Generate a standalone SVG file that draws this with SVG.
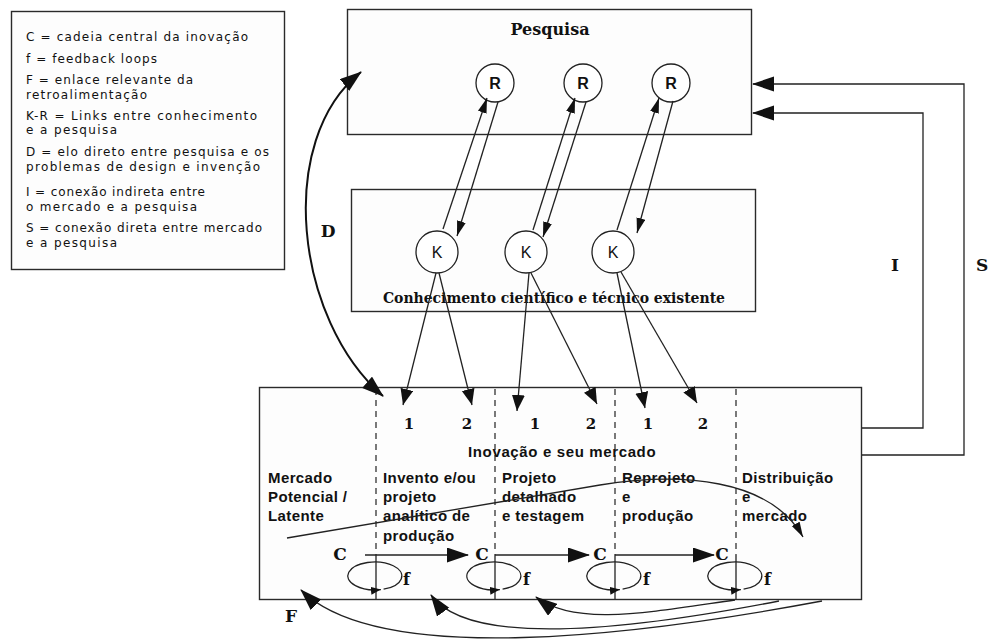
<svg xmlns="http://www.w3.org/2000/svg" width="990" height="642" viewBox="0 0 990 642">
  <style>
    .box { fill: #fdfdfd; stroke: #2a2a2a; stroke-width: 1.4; }
    .node { fill: #fff; stroke: #222; stroke-width: 1.3; }
    .ln { fill: none; stroke: #222; stroke-width: 1.3; }
    .thick { fill: none; stroke: #111; stroke-width: 2; }
    .dash { fill: none; stroke: #222; stroke-width: 1.2; stroke-dasharray: 6 5; }
    .legend { font-family: "DejaVu Sans", "Liberation Sans", sans-serif; font-size: 12px; fill: #111; }
    .serif { font-family: "DejaVu Serif", "Liberation Serif", serif; font-weight: bold; fill: #111; }
    .stage { font-family: "Liberation Sans", Arial, sans-serif; font-weight: bold; font-size: 15px; letter-spacing: 0.4px; fill: #111; }
    .circ { font-family: "Liberation Sans", Arial, sans-serif; font-size: 16px; fill: #111; text-anchor: middle; }
  </style>
  <defs>
    <marker id="big" markerUnits="userSpaceOnUse" markerWidth="24" markerHeight="16" refX="21" refY="7.5" orient="auto-start-reverse">
      <path d="M0,0 L22,7.5 L0,15 z" fill="#111"/>
    </marker>
    <marker id="mid" markerUnits="userSpaceOnUse" markerWidth="18" markerHeight="14" refX="16" refY="6.5" orient="auto">
      <path d="M0,0 L16,6.5 L0,13 z" fill="#111"/>
    </marker>
    <marker id="sm" markerUnits="userSpaceOnUse" markerWidth="16" markerHeight="10" refX="15" refY="4.5" orient="auto">
      <path d="M0,0 L15,4.5 L0,9 z" fill="#111"/>
    </marker>
    <marker id="tiny" markerUnits="userSpaceOnUse" markerWidth="12" markerHeight="10" refX="10" refY="4" orient="auto">
      <path d="M0,0 L10,4 L0,8 z" fill="#111"/>
    </marker>
  </defs>

  <rect width="990" height="642" fill="#fff"/>

  <!-- Legend -->
  <g id="legend">
    <rect class="box" x="11.5" y="11.5" width="273" height="258"/>
    <text class="legend" x="26" y="41" textLength="222">C = cadeia central da inovação</text>
    <text class="legend" x="26" y="63" textLength="131">f = feedback loops</text>
    <text class="legend" x="26" y="84" textLength="167">F = enlace relevante da</text>
    <text class="legend" x="26" y="99" textLength="121">retroalimentação</text>
    <text class="legend" x="26" y="120" textLength="231">K-R = Links entre conhecimento</text>
    <text class="legend" x="26" y="134" textLength="91">e a pesquisa</text>
    <text class="legend" x="26" y="156" textLength="243">D = elo direto entre pesquisa e os</text>
    <text class="legend" x="26" y="171" textLength="234">problemas de design e invenção</text>
    <text class="legend" x="26" y="196" textLength="179">I = conexão indireta entre</text>
    <text class="legend" x="26" y="211" textLength="171">o mercado e a pesquisa</text>
    <text class="legend" x="26" y="232" textLength="236">S = conexão direta entre mercado</text>
    <text class="legend" x="26" y="247" textLength="91">e a pesquisa</text>
  </g>

  <!-- Research block -->
  <g id="pesquisa">
    <rect class="box" x="347.5" y="9.5" width="404" height="125"/>
    <text class="serif" x="550" y="35" font-size="16" text-anchor="middle">Pesquisa</text>
  </g>
  <g id="r1"><circle class="node" cx="495" cy="83" r="19"/><text class="circ" x="495" y="89" font-weight="bold">R</text></g>
  <g id="r2"><circle class="node" cx="583" cy="83" r="19"/><text class="circ" x="583" y="89" font-weight="bold">R</text></g>
  <g id="r3"><circle class="node" cx="671" cy="83" r="19"/><text class="circ" x="671" y="89" font-weight="bold">R</text></g>

  <!-- Existing knowledge block -->
  <g id="conhecimento">
    <rect class="box" x="351.5" y="189.5" width="404" height="122"/>
    <text class="serif" x="383" y="303" font-size="14" textLength="342">Conhecimento científico e técnico existente</text>
  </g>
  <g id="k1"><circle class="node" cx="437" cy="252" r="21"/><text class="circ" x="437" y="258">K</text></g>
  <g id="k2"><circle class="node" cx="526" cy="252" r="21"/><text class="circ" x="526" y="258">K</text></g>
  <g id="k3"><circle class="node" cx="613" cy="252" r="21"/><text class="circ" x="613" y="258">K</text></g>

  <!-- Innovation and market block -->
  <g id="mercado">
    <rect class="box" x="259.5" y="387.5" width="602" height="212"/>
    <line class="dash" x1="376" y1="389" x2="376" y2="555"/>
    <line class="dash" x1="495" y1="389" x2="495" y2="555"/>
    <line class="dash" x1="615" y1="389" x2="615" y2="555"/>
    <line class="dash" x1="736" y1="389" x2="736" y2="555"/>
    <line class="ln" x1="376" y1="555" x2="376" y2="599"/>
    <line class="ln" x1="495" y1="555" x2="495" y2="599"/>
    <line class="ln" x1="615" y1="555" x2="615" y2="599"/>
    <line class="ln" x1="736" y1="555" x2="736" y2="599"/>

    <text class="serif" font-size="15" text-anchor="middle" x="409" y="429">1</text>
    <text class="serif" font-size="15" text-anchor="middle" x="467" y="429">2</text>
    <text class="serif" font-size="15" text-anchor="middle" x="535" y="429">1</text>
    <text class="serif" font-size="15" text-anchor="middle" x="591" y="429">2</text>
    <text class="serif" font-size="15" text-anchor="middle" x="648" y="429">1</text>
    <text class="serif" font-size="15" text-anchor="middle" x="703" y="429">2</text>

    <text class="stage" x="468" y="457" textLength="188">Inovação e seu mercado</text>

    <text class="stage"><tspan x="268" y="483">Mercado</tspan><tspan x="268" y="502">Potencial /</tspan><tspan x="268" y="521">Latente</tspan></text>
    <text class="stage"><tspan x="383" y="483">Invento e/ou</tspan><tspan x="383" y="502">projeto</tspan><tspan x="383" y="521">analítico de</tspan><tspan x="383" y="541">produção</tspan></text>
    <text class="stage"><tspan x="502" y="483">Projeto</tspan><tspan x="502" y="502">detalhado</tspan><tspan x="502" y="521">e testagem</tspan></text>
    <text class="stage"><tspan x="622" y="483">Reprojeto</tspan><tspan x="622" y="502">e</tspan><tspan x="622" y="521">produção</tspan></text>
    <text class="stage"><tspan x="742" y="483">Distribuição</tspan><tspan x="742" y="502">e</tspan><tspan x="742" y="521">mercado</tspan></text>

    <text class="serif" font-size="17" text-anchor="middle" x="340" y="560">C</text>
    <text class="serif" font-size="17" text-anchor="middle" x="482" y="560">C</text>
    <text class="serif" font-size="17" text-anchor="middle" x="600" y="560">C</text>
    <text class="serif" font-size="17" text-anchor="middle" x="722" y="560">C</text>

    <text class="serif" font-size="16" x="403" y="585">f</text>
    <text class="serif" font-size="16" x="523" y="585">f</text>
    <text class="serif" font-size="16" x="643" y="585">f</text>
    <text class="serif" font-size="16" x="764" y="585">f</text>
  </g>

  <!-- Free labels -->
  <text class="serif" font-size="17" text-anchor="middle" x="328" y="237">D</text>
  <text class="serif" font-size="17" text-anchor="middle" x="895" y="271">I</text>
  <text class="serif" font-size="17" x="976" y="271">S</text>
  <text class="serif" font-size="17" x="285" y="622">F</text>

  <!-- Connectors -->
  <g id="connectors">
    <!-- K-R links -->
    <line class="ln" x1="443" y1="229" x2="487" y2="98" marker-end="url(#sm)"/>
    <line class="ln" x1="498" y1="102" x2="457" y2="236" marker-end="url(#sm)"/>
    <line class="ln" x1="533" y1="230" x2="575" y2="98" marker-end="url(#sm)"/>
    <line class="ln" x1="586" y1="102" x2="543" y2="237" marker-end="url(#sm)"/>
    <line class="ln" x1="617" y1="230" x2="659" y2="98" marker-end="url(#sm)"/>
    <line class="ln" x1="673" y1="101" x2="637" y2="233" marker-end="url(#sm)"/>

    <!-- Knowledge to stages -->
    <line class="ln" x1="436" y1="273" x2="403" y2="405" marker-end="url(#mid)"/>
    <line class="ln" x1="439" y1="273" x2="472" y2="405" marker-end="url(#mid)"/>
    <line class="ln" x1="529" y1="273" x2="517" y2="411" marker-end="url(#mid)"/>
    <line class="ln" x1="531" y1="273" x2="597" y2="404" marker-end="url(#mid)"/>
    <line class="ln" x1="617" y1="273" x2="645" y2="408" marker-end="url(#mid)"/>
    <line class="ln" x1="621" y1="272" x2="697" y2="403" marker-end="url(#mid)"/>

    <!-- D: research <-> invention -->
    <path class="thick" d="M383,396 C295,320 275,140 361,72" marker-start="url(#big)" marker-end="url(#big)"/>

    <!-- I and S: market back to research -->
    <polyline class="ln" stroke-width="1.5" points="862,428 923,428 923,113 753,113" marker-end="url(#big)"/>
    <polyline class="ln" stroke-width="1.5" points="862,455 964,455 964,84 753,84" marker-end="url(#big)"/>

    <!-- Central chain C -->
    <line class="ln" x1="365" y1="555" x2="468" y2="555" marker-end="url(#big)"/>
    <line class="ln" x1="495" y1="555" x2="589" y2="555" marker-end="url(#big)"/>
    <line class="ln" x1="615" y1="555" x2="714" y2="555" marker-end="url(#big)"/>

    <!-- Feedback loops f -->
    <path class="ln" d="M383.6,589.2 A27 14 0 1 0 380.9,589.6" marker-end="url(#tiny)"/>
    <path class="ln" d="M502.6,589.2 A27 14 0 1 0 499.9,589.6" marker-end="url(#tiny)"/>
    <path class="ln" d="M622.6,589.2 A27 14 0 1 0 619.9,589.6" marker-end="url(#tiny)"/>
    <path class="ln" d="M743.6,589.2 A27 14 0 1 0 740.9,589.6" marker-end="url(#tiny)"/>

    <!-- Potential market to distribution -->
    <path class="ln" stroke="#333" d="M287,538 L600,485 C680,472 770,478 803,537" marker-end="url(#sm)"/>

    <!-- Strong feedback F -->
    <path class="ln" stroke-width="1.6" d="M735,600 C650,612 575,627 536,597" marker-end="url(#big)"/>
    <path class="ln" stroke-width="1.6" d="M779,601 C640,628 470,650 431,595" marker-end="url(#big)"/>
    <path class="ln" stroke-width="1.6" d="M822,601 C640,635 380,668 301,590" marker-end="url(#big)"/>
  </g>
</svg>
